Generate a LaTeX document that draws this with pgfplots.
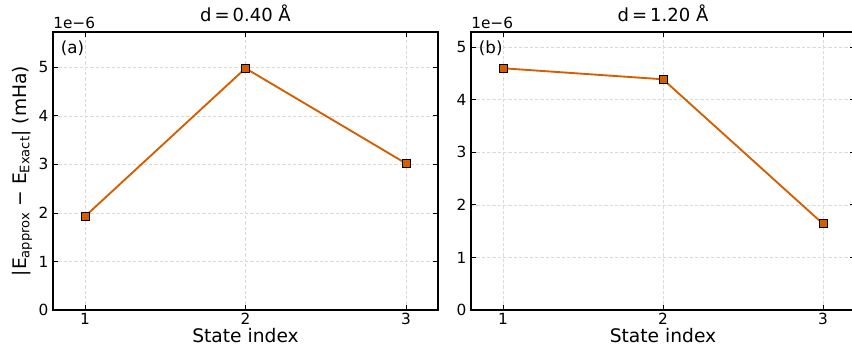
\documentclass[border=0pt]{standalone}
\usepackage{fontspec}
\setmainfont{DejaVu Sans}
\usepackage{pgfplots}
\pgfplotsset{compat=1.18}
\definecolor{verm}{HTML}{D55E00}
\definecolor{gridc}{HTML}{DADADA}
\begin{document}
\begin{tikzpicture}
\pgfplotsset{
  panel/.style={
    scale only axis,
    height=208.5pt,
    anchor=south west,
    xmin=0.8, xmax=3.2,
    ymin=0,
    xtick={1,2,3},
    ytick={0,1,2,3,4,5},
    tick align=inside,
    tick pos=both,
    major tick length=3.5pt,
    tick style={black, line width=0.6pt},
    axis line style={line width=0.9pt},
    grid=major,
    major grid style={gridc, dash pattern=on 2.5pt off 1.5pt, line width=0.5pt},
    /pgf/number format/assume math mode=true,
    ticklabel style={font=\fontsize{11.5pt}{13pt}\selectfont},
    xticklabel style={yshift=1pt},
    xlabel style={font=\fontsize{14pt}{16pt}\selectfont, yshift=4pt},
    ylabel style={font=\fontsize{14pt}{16pt}\selectfont},
    title style={font=\fontsize{13.5pt}{15pt}\selectfont, yshift=-2pt},
    xlabel={State index},
    clip=false,
  },
  series/.style={
    color=verm, line width=1.4pt, mark=square*,
    mark size=3pt,
    mark options={fill=verm, draw=black, line width=0.5pt},
  }
}
\begin{axis}[panel, at={(39.75pt,36pt)}, width=288.75pt, ymax=5.727,
  title={d\,=\,0.40 Å},
  ylabel={|E\textsubscript{approx} − E\textsubscript{Exact}| (mHa)},
  ylabel style={yshift=-2pt}]
\addplot[series] coordinates {(1,1.93) (2,4.98) (3,3.02)};
\node[anchor=north west, font=\fontsize{12.5pt}{14pt}\selectfont, inner sep=0pt] at (rel axis cs:0.02,0.97) {(a)};
\node[anchor=south west, font=\fontsize{11.5pt}{13pt}\selectfont, inner sep=0pt] at (rel axis cs:0,1.012) {1e−6};
\end{axis}
\begin{axis}[panel, at={(353.25pt,36pt)}, width=288pt, ymax=5.29,
  title={d\,=\,1.20 Å}]
\addplot[series] coordinates {(1,4.60) (2,4.39) (3,1.64)};
\node[anchor=north west, font=\fontsize{12.5pt}{14pt}\selectfont, inner sep=0pt] at (rel axis cs:0.02,0.97) {(b)};
\node[anchor=south west, font=\fontsize{11.5pt}{13pt}\selectfont, inner sep=0pt] at (rel axis cs:0,1.012) {1e−6};
\end{axis}
\pgfresetboundingbox
\useasboundingbox (0,0) rectangle (639pt,268.5pt);
\end{tikzpicture}
\end{document}
